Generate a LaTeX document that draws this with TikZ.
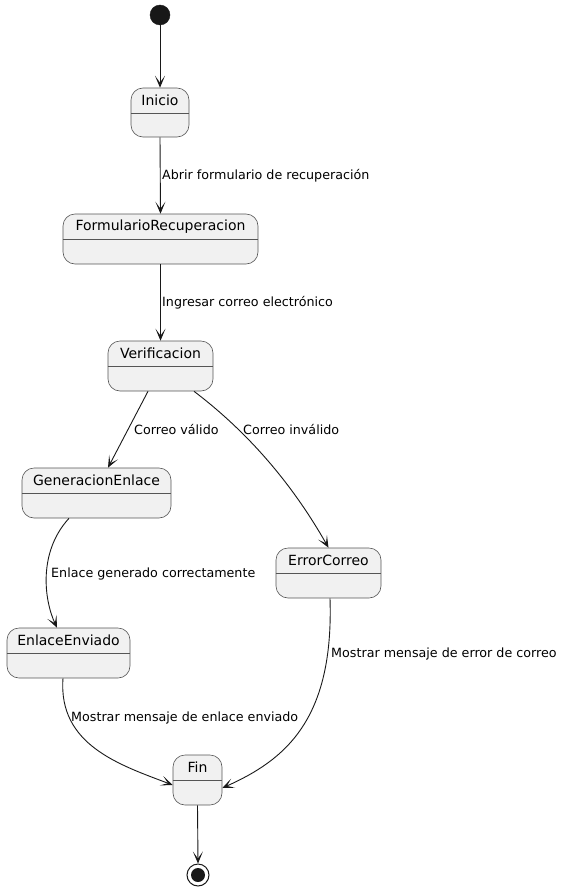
\documentclass[tikz,border=0pt]{standalone}
\usepackage{fontspec}
\setmainfont{DejaVu Sans}
\usetikzlibrary{arrows.meta,calc}
\definecolor{stfill}{HTML}{F1F1F1}
\definecolor{stline}{HTML}{181818}
\definecolor{bxline}{HTML}{555555}
\newcommand{\mkstate}[6]{%
  \node[stbox, minimum width={#4-#2}, minimum height={#5-#3}] (#1) at ({(#2+#4)/2},{(#3+#5)/2}) {};
  \node[stname] (#1-t) at ({(#2+#4)/2},{#3+12.5}) {#6};
  \draw[bxline, line width=0.5pt] (#1.west |- 0,{#3+25.5}) -- (#1.east |- 0,{#3+25.5});
}
\tikzset{
  stbox/.style={draw=bxline, fill=stfill, line width=0.6pt, rounded corners=12pt, inner sep=0pt},
  stname/.style={font=\fontsize{14}{16}\selectfont, inner sep=0pt, text=black},
  lbl/.style={font=\fontsize{12.7}{15}\selectfont, anchor=west, inner sep=0pt, text=black},
  tr/.style={draw=stline, line width=0.9pt, -{Stealth[length=12pt, width=10pt, inset=7pt]}},
}
\begin{document}
\begin{tikzpicture}[x=1pt, y=-1pt]
\useasboundingbox (0,0) rectangle (565,891);
\node[circle, fill=stline, draw=stline, minimum size=20pt, inner sep=0pt] (start) at (160,15) {};
\mkstate{inicio}{131}{88}{189}{137}{Inicio}
\mkstate{form}{63}{214}{258}{264}{FormularioRecuperacion}
\mkstate{ver}{108}{341}{213}{391}{Verificacion}
\mkstate{gen}{22}{468}{171}{518}{GeneracionEnlace}
\mkstate{err}{276}{548}{381}{598}{ErrorCorreo}
\mkstate{env}{7}{628}{130}{678}{EnlaceEnviado}
\mkstate{fin}{173}{755}{222}{805}{Fin}
\node[circle, draw=stline, line width=1pt, fill=white, minimum size=22pt, inner sep=0pt] (end) at (198,875) {};
\node[circle, fill=stline, minimum size=14pt, inner sep=0pt] (endin) at (198,875) {};

\draw[tr] (start) -- (inicio.north);
\draw[tr] (inicio.south) -- (form.north);
\node[lbl] (l1) at (162,176) {Abrir formulario de recuperación};
\draw[tr] (form.south) -- (ver.north);
\node[lbl] (l2) at (162,303) {Ingresar correo electrónico};
\draw[tr] ([xshift=-12.5pt]ver.south) -- ([xshift=11.5pt]gen.north);
\node[lbl] (l3) at (134,430) {Correo válido};
\draw[tr] ([xshift=33.5pt]ver.south) .. controls (245,430) and (290,480) .. (err.north);
\node[lbl] (l4) at (243,430) {Correo inválido};
\draw[tr] ([xshift=-27.5pt]gen.south) .. controls (38,552) and (44,600) .. ([xshift=-11.5pt]env.north);
\node[lbl] (l5) at (51,574) {Enlace generado correctamente};
\draw[tr] ([xshift=1.5pt]err.south) .. controls (334,720) and (285,760) .. ([yshift=-8pt]fin.east);
\node[lbl] (l6) at (331,654) {Mostrar mensaje de error de correo};
\draw[tr] ([xshift=-5.5pt]env.south) .. controls (58,745) and (120,765) .. ([yshift=-5pt]fin.west);
\node[lbl] (l7) at (71,718) {Mostrar mensaje de enlace enviado};
\draw[tr] (fin.south) -- (end.north);
\end{tikzpicture}
\end{document}
